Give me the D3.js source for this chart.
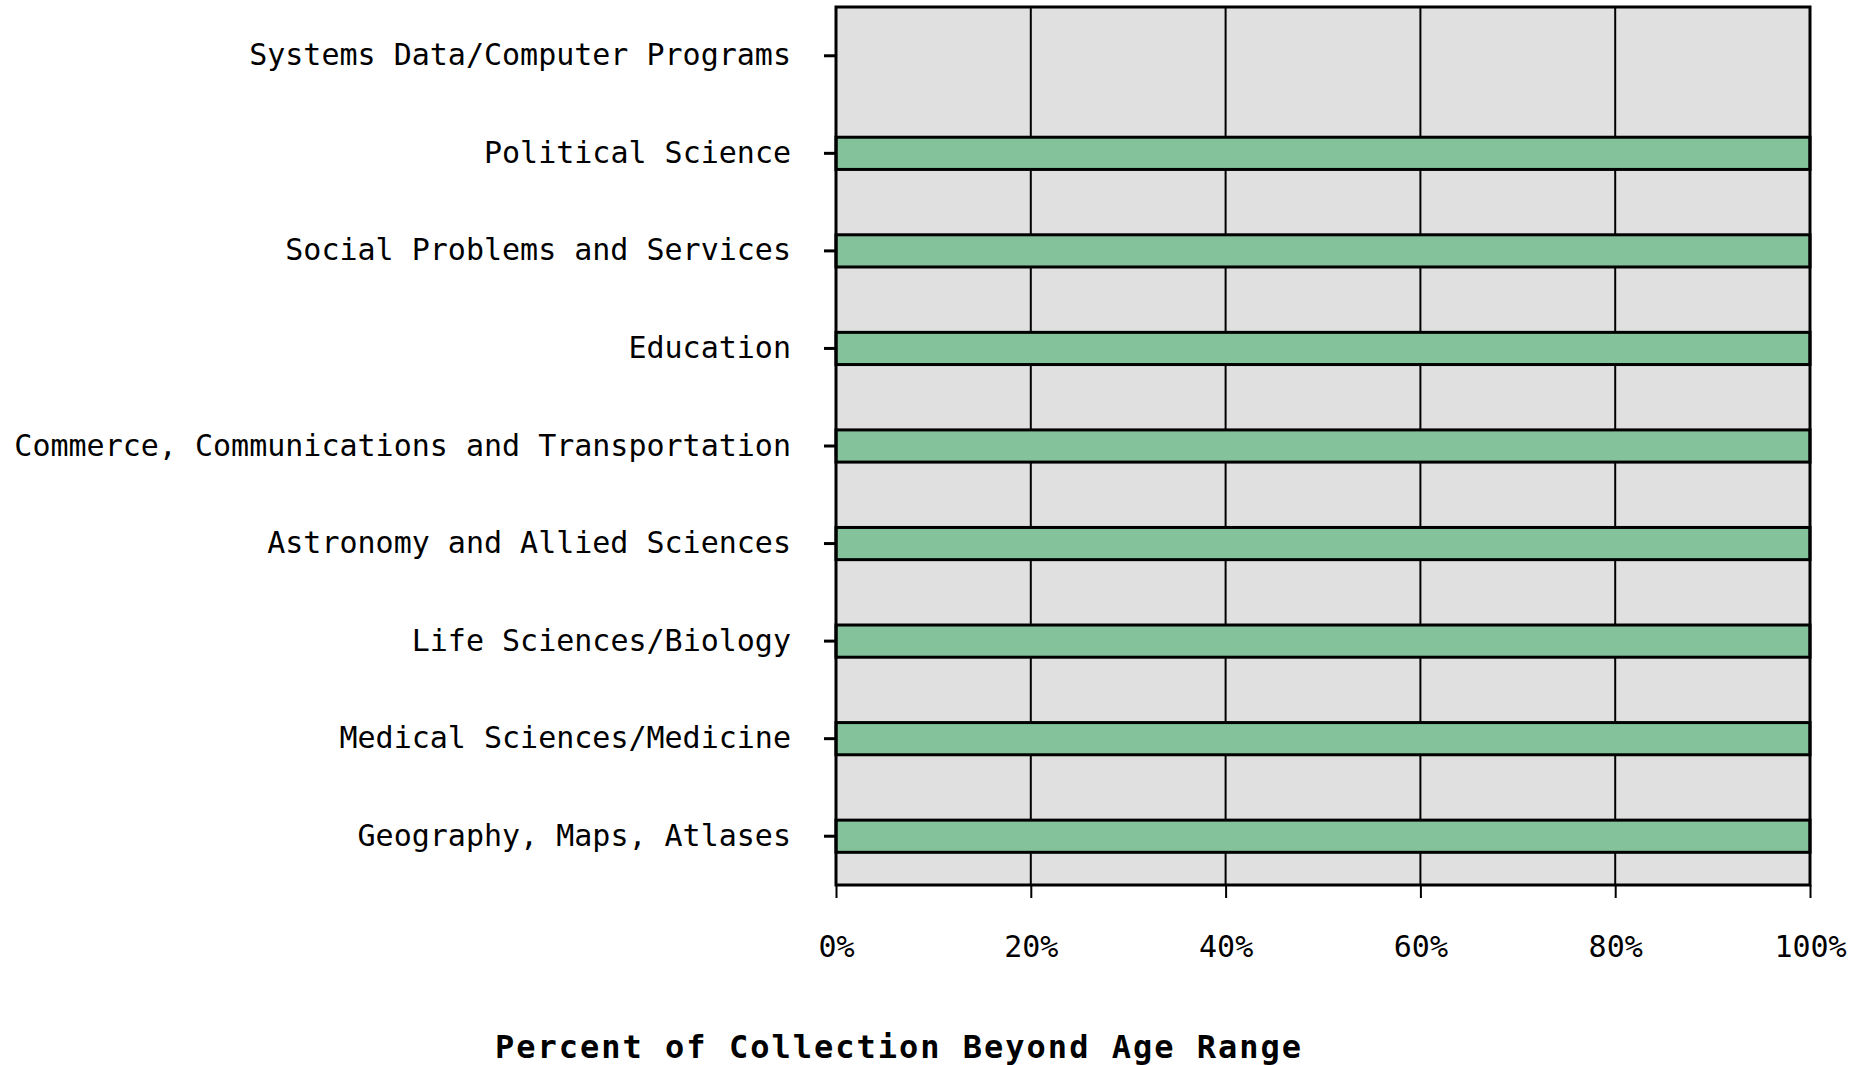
<!DOCTYPE html>
<html lang="en">
<head>
  <meta charset="UTF-8">
  <title>Percent of Collection Beyond Age Range</title>
  <script src="https://d3js.org/d3.v7.min.js"></script>
  <style>
    html, body {
      margin: 0;
      padding: 0;
      background: #ffffff;
    }
    svg {
      display: block;
    }
    .label {
      font-family: "DejaVu Sans Mono", "Liberation Mono", monospace;
      font-size: 30px;
      fill: #000;
    }
    .title {
      font-family: "DejaVu Sans Mono", "Liberation Mono", monospace;
      font-size: 32px;
      font-weight: bold;
      letter-spacing: 2px;
      fill: #000;
    }
  </style>
</head>
<body>
  <div id="chart"></div>
  <script>
    var categories = [
      "Systems Data/Computer Programs",
      "Political Science",
      "Social Problems and Services",
      "Education",
      "Commerce, Communications and Transportation",
      "Astronomy and Allied Sciences",
      "Life Sciences/Biology",
      "Medical Sciences/Medicine",
      "Geography, Maps, Atlases"
    ];
    var values = [0, 100, 100, 100, 100, 100, 100, 100, 100];
    var xTicks = [0, 20, 40, 60, 80, 100];
    var xTitle = "Percent of Collection Beyond Age Range";

    var W = 1865, H = 1065;
    var margin = { top: 7, right: 55, bottom: 180, left: 836 };
    var width = W - margin.left - margin.right,
        height = H - margin.top - margin.bottom;

    var svg = d3.select("#chart")
      .append("svg")
      .attr("width", W)
      .attr("height", H);

    var g = svg.append("g")
      .attr("transform", "translate(" + margin.left + "," + margin.top + ")");

    var x = d3.scaleLinear().domain([0, 100]).range([0, width]);
    var y = d3.scaleBand().domain(categories).range([0, height]).padding(0);

    // plot background
    g.append("rect")
      .attr("width", width)
      .attr("height", height)
      .attr("fill", "#e0e0e0");

    // vertical grid lines
    g.selectAll(".grid")
      .data(xTicks.slice(1, -1))
      .enter().append("line")
      .attr("x1", function(d) { return x(d); })
      .attr("x2", function(d) { return x(d); })
      .attr("y1", 0)
      .attr("y2", height)
      .attr("stroke", "#000")
      .attr("stroke-width", 2);

    // bars
    var barH = y.bandwidth() * 0.33;
    g.selectAll(".bar")
      .data(categories.map(function(c, i) { return { cat: c, v: values[i] }; }))
      .enter().append("rect")
      .filter(function(d) { return d.v > 0; })
      .attr("x", x(0))
      .attr("y", function(d) { return y(d.cat) + y.bandwidth() / 2 - barH / 2; })
      .attr("width", function(d) { return x(d.v) - x(0); })
      .attr("height", barH)
      .attr("fill", "#83c29b")
      .attr("stroke", "#000")
      .attr("stroke-width", 3);

    // frame
    g.append("rect")
      .attr("width", width)
      .attr("height", height)
      .attr("fill", "none")
      .attr("stroke", "#000")
      .attr("stroke-width", 3);

    // y axis
    var yAxis = g.append("g")
      .call(d3.axisLeft(y).tickSize(12).tickPadding(33));
    yAxis.select(".domain").remove();
    yAxis.selectAll(".tick line").attr("stroke", "#000").attr("stroke-width", 3);
    yAxis.selectAll(".tick text")
      .attr("class", "label")
      .attr("font-size", null)
      .attr("font-family", null);
    yAxis.attr("font-size", null).attr("font-family", null);

    // x axis
    var xAxis = g.append("g")
      .attr("transform", "translate(0," + height + ")")
      .call(d3.axisBottom(x).tickValues(xTicks).tickSize(13).tickPadding(34)
        .tickFormat(function(d) { return d + "%"; }));
    xAxis.select(".domain").remove();
    xAxis.selectAll(".tick line").attr("stroke", "#000").attr("stroke-width", 2);
    xAxis.selectAll(".tick text")
      .attr("class", "label")
      .attr("dy", "0.35em")
      .attr("y", 61);
    xAxis.attr("font-size", null).attr("font-family", null);

    // axis title
    svg.append("text")
      .attr("class", "title")
      .attr("x", 899)
      .attr("y", 1047)
      .attr("dy", "0.35em")
      .attr("text-anchor", "middle")
      .text(xTitle);
  </script>
</body>
</html>
